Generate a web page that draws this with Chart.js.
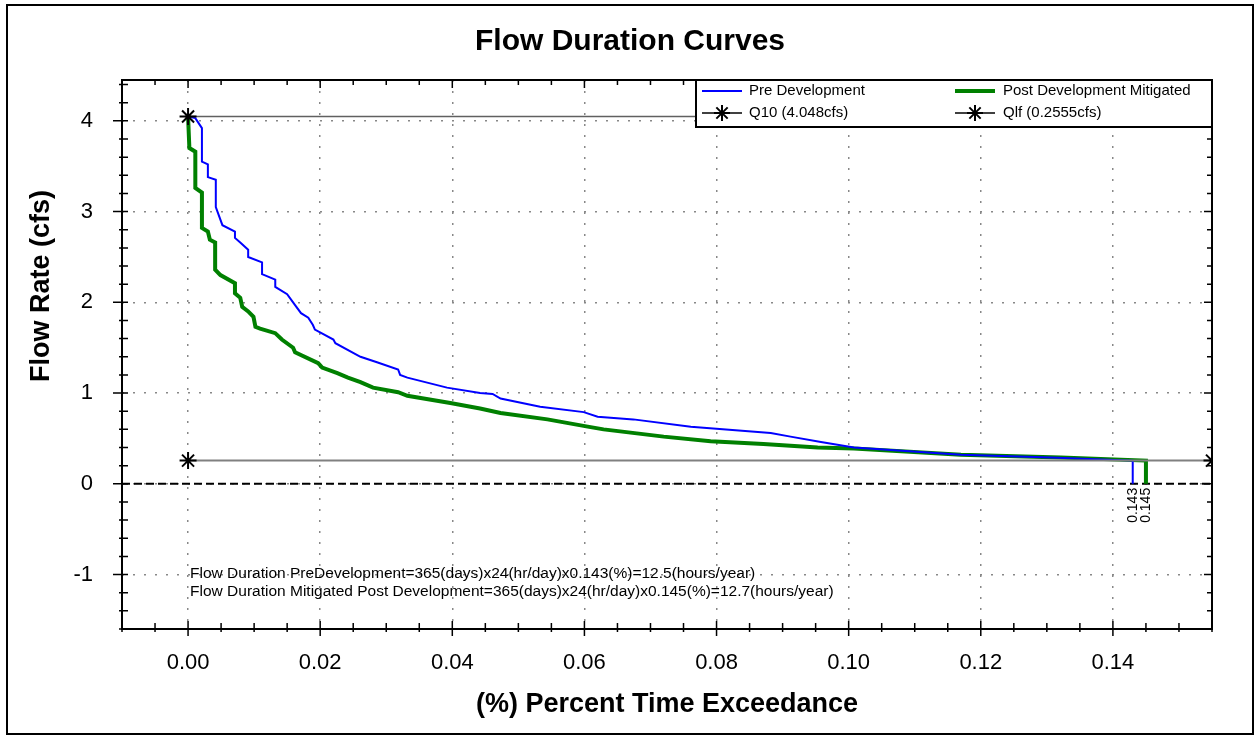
<!DOCTYPE html>
<html>
<head>
<meta charset="utf-8">
<title>Flow Duration Curves</title>
<script src="https://cdn.jsdelivr.net/npm/chart.js@4.4.1/dist/chart.umd.min.js"></script>
<style>
  body { margin: 0; background: #fff; }
  canvas { display: block; }
</style>
</head>
<body>
<canvas id="flow-duration" width="1260" height="738"></canvas>
<script>
// values
const preX = [0, 0.0011, 0.0021, 0.0021, 0.0030, 0.0030, 0.0042, 0.0042, 0.0052, 0.0071, 0.0071, 0.0079, 0.0091, 0.0091, 0.0112, 0.0112,
    0.0132, 0.0132, 0.0150, 0.0162, 0.0171, 0.0182, 0.0189, 0.0192, 0.0220, 0.0223, 0.0261, 0.0286, 0.0318, 0.0321, 0.0332, 0.0392,
    0.0442, 0.0461, 0.0473, 0.0533, 0.0599, 0.0620, 0.0674, 0.0761, 0.0882, 0.0912, 0.0958, 0.1008, 0.1170, 0.1306, 0.143, 0.143];
const preY = [4.048, 4.03, 3.92, 3.55, 3.52, 3.38, 3.35, 3.05, 2.85, 2.78, 2.71, 2.66, 2.58, 2.50, 2.44, 2.31,
    2.25, 2.17, 2.09, 1.97, 1.88, 1.83, 1.75, 1.70, 1.59, 1.55, 1.40, 1.34, 1.26, 1.20, 1.17, 1.06,
    1.00, 0.99, 0.94, 0.85, 0.79, 0.74, 0.71, 0.63, 0.56, 0.52, 0.46, 0.40, 0.32, 0.29, 0.2555, 0];

const postX = [0, 0.0002, 0.0011, 0.0011, 0.0021, 0.0021, 0.0030, 0.0033, 0.0041, 0.0041, 0.0049, 0.0071, 0.0071, 0.0079, 0.0082, 0.0091,
    0.0099, 0.0102, 0.0109, 0.0132, 0.0142, 0.0159, 0.0162, 0.0197, 0.0203, 0.0226, 0.0242, 0.0261, 0.0280, 0.0318, 0.0332, 0.0397,
    0.0442, 0.0473, 0.0544, 0.0605, 0.0629, 0.0720, 0.0791, 0.0871, 0.0953, 0.1008, 0.1170, 0.1321, 0.145, 0.145];
const postY = [4.048, 3.70, 3.66, 3.26, 3.21, 2.82, 2.78, 2.69, 2.66, 2.36, 2.30, 2.21, 2.10, 2.05, 1.95, 1.90,
    1.84, 1.73, 1.71, 1.66, 1.59, 1.50, 1.45, 1.33, 1.28, 1.22, 1.17, 1.12, 1.06, 1.01, 0.97, 0.89,
    0.83, 0.78, 0.71, 0.63, 0.60, 0.52, 0.47, 0.44, 0.40, 0.39, 0.32, 0.29, 0.2555, 0];

const q10 = 4.048;
const qlf = 0.2555;
const xRange = [-0.01, 0.155];
const yRange = [-1.6, 4.45];
const durations = [0.143, 0.145];
const notes = [
    'Flow Duration PreDevelopment=365(days)x24(hr/day)x0.143(%)=12.5(hours/year)',
    'Flow Duration Mitigated Post Development=365(days)x24(hr/day)x0.145(%)=12.7(hours/year)'
];
const yTitle = 'Flow Rate (cfs)';

const FONT = '"Liberation Sans", Arial, sans-serif';
const toPoints = (xs, ys) => xs.map((v, i) => ({x: v, y: ys[i]}));

// legend: [label, colour, line width, star marker]
const legendItems = [
    ['Pre Development', '#0000ff', 2, false],
    ['Post Development Mitigated', '#008000', 4, false],
    ['Q10 (4.048cfs)', '#000', 1.5, true],
    ['Qlf (0.2555cfs)', '#000', 1.5, true]
];

function star(ctx, x, y, r) {
    const d = r * Math.SQRT1_2;
    ctx.beginPath();
    ctx.moveTo(x, y - r); ctx.lineTo(x, y + r);
    ctx.moveTo(x - r, y); ctx.lineTo(x + r, y);
    ctx.moveTo(x - d, y - d); ctx.lineTo(x + d, y + d);
    ctx.moveTo(x - d, y + d); ctx.lineTo(x + d, y - d);
    ctx.stroke();
}

const chartExtras = {
    id: 'chartExtras',
    beforeDraw(chart) {
        const {ctx, width, height} = chart;
        ctx.save();
        ctx.fillStyle = '#fff';
        ctx.fillRect(0, 0, width, height);
        ctx.restore();
    },
    afterDatasetsDraw(chart) {
        const {ctx, chartArea: area, scales: {x, y}} = chart;
        ctx.save();

        // duration values written under the zero line
        ctx.font = '14px ' + FONT;
        ctx.textAlign = 'right';
        ctx.textBaseline = 'middle';
        durations.slice().reverse().forEach((d, i) => {
            const px = x.getPixelForValue(d);
            const py = y.getPixelForValue(0) + 4;
            const w = ctx.measureText(d.toFixed(3)).width;
            ctx.save();
            ctx.translate(px, py);
            ctx.rotate(-Math.PI / 2);
            if (i === durations.length - 1) {
                ctx.fillStyle = '#fff';
                ctx.fillRect(-w, -6, w, 12);
            }
            ctx.fillStyle = '#000';
            ctx.fillText(d.toFixed(3), 0, 0);
            ctx.restore();
        });

        // notes in the lower left of the plot
        ctx.font = '15.5px ' + FONT;
        ctx.textAlign = 'left';
        ctx.fillStyle = '#000';
        notes.forEach((t, i) => ctx.fillText(t, x.getPixelForValue(0) + 2, area.bottom - 55 + i * 18));

        // frame
        ctx.strokeStyle = '#000';
        ctx.lineWidth = 2;
        ctx.strokeRect(area.left, area.top, area.width, area.height);

        // major and minor tick marks on all four sides
        ctx.lineWidth = 1.5;
        ctx.beginPath();
        for (let k = 0; k <= Math.round((xRange[1] - xRange[0]) / 0.005); k++) {
            const v = xRange[0] + k * 0.005;
            const major = Math.abs(v / 0.02 - Math.round(v / 0.02)) < 1e-6 && v >= 0;
            const px = x.getPixelForValue(v);
            ctx.moveTo(px, area.bottom - (major ? 8 : 6));
            ctx.lineTo(px, area.bottom + (major ? 7 : 3));
            ctx.moveTo(px, area.top);
            ctx.lineTo(px, area.top + (major ? 8 : 5));
        }
        for (let k = 0; k <= Math.round((yRange[1] - yRange[0]) / 0.2); k++) {
            const v = yRange[0] + k * 0.2;
            const major = Math.abs(v - Math.round(v)) < 1e-6;
            const py = y.getPixelForValue(v);
            ctx.moveTo(area.left - (major ? 9 : 3), py);
            ctx.lineTo(area.left + 6, py);
            ctx.moveTo(area.right, py);
            ctx.lineTo(area.right - (major ? 8 : 5), py);
        }
        ctx.stroke();

        // legend box in the upper right corner
        const lw = 516, lh = 47;
        const lx = area.right - lw, ly = area.top;
        ctx.fillStyle = '#fff';
        ctx.fillRect(lx, ly, lw, lh);
        ctx.lineWidth = 2;
        ctx.strokeStyle = '#000';
        ctx.strokeRect(lx, ly, lw, lh);
        ctx.font = '15px ' + FONT;
        ctx.textBaseline = 'middle';
        legendItems.forEach(([label, color, width, marker], i) => {
            const col = i % 2, row = Math.floor(i / 2);
            const sx = lx + (col ? 259 : 6);
            const sy = ly + (row ? 33 : 11);
            ctx.strokeStyle = color;
            ctx.lineWidth = width;
            ctx.beginPath();
            ctx.moveTo(sx, sy);
            ctx.lineTo(sx + 40, sy);
            ctx.stroke();
            if (marker) {
                ctx.lineWidth = 2;
                star(ctx, sx + 20, sy, 8);
            }
            ctx.fillStyle = '#000';
            ctx.fillText(label, sx + (col ? 48 : 47), sy);
        });
        ctx.restore();
    },
    afterDraw(chart) {
        const {ctx, chartArea: area} = chart;
        ctx.save();
        // y axis title, set a little above the middle as in the original
        ctx.translate(42, area.top + 206);
        ctx.rotate(-Math.PI / 2);
        ctx.font = 'bold 27px ' + FONT;
        ctx.fillStyle = '#000';
        ctx.textAlign = 'center';
        ctx.textBaseline = 'middle';
        ctx.fillText(yTitle, 0, 0);
        ctx.restore();

        ctx.save();
        ctx.strokeStyle = '#000';
        ctx.lineWidth = 2;
        ctx.strokeRect(7, 5, chart.width - 14, chart.height - 9);
        ctx.restore();
    }
};

const ctx = document.getElementById('flow-duration').getContext('2d');

new Chart(ctx, {
    type: 'line',
    data: {
        datasets: [
            {
                label: 'Q10 (4.048cfs)',
                data: toPoints([0, xRange[1]], [q10, q10]),
                borderColor: '#606060',
                borderWidth: 1.5,
                pointStyle: 'star',
                pointRadius: [8.5, 0],
                pointBorderColor: '#000',
                pointBorderWidth: 2
            },
            {
                label: 'Qlf (0.2555cfs)',
                data: toPoints([0, xRange[1]], [qlf, qlf]),
                borderColor: '#808080',
                borderWidth: 2,
                pointStyle: 'star',
                pointRadius: 8.5,
                pointBorderColor: '#000',
                pointBorderWidth: 2
            },
            {
                label: 'Pre Development',
                data: toPoints(preX, preY),
                borderColor: '#0000ff',
                borderWidth: 2,
                pointRadius: 0
            },
            {
                label: 'Post Development Mitigated',
                data: toPoints(postX, postY),
                borderColor: '#008000',
                borderWidth: 4,
                pointRadius: 0
            },
            {
                label: 'zero',
                data: toPoints(xRange, [0, 0]),
                borderColor: '#000',
                borderWidth: 2,
                borderDash: [8, 4],
                pointRadius: 0
            }
        ]
    },
    options: {
        responsive: false,
        animation: false,
        events: [],
        layout: {
            padding: 0
        },
        elements: {
            line: {tension: 0, fill: false}
        },
        plugins: {
            legend: {display: false},
            tooltip: {enabled: false},
            title: {
                display: true,
                text: 'Flow Duration Curves',
                color: '#000',
                font: {family: FONT, size: 30, weight: 'bold'},
                padding: {top: 24, bottom: 20}
            }
        },
        scales: {
            x: {
                type: 'linear',
                min: xRange[0],
                max: xRange[1],
                afterFit(scale) { scale.height = 109; },
                ticks: {
                    stepSize: 0.02,
                    includeBounds: false,
                    maxRotation: 0,
                    padding: 21,
                    color: '#000',
                    font: {family: FONT, size: 22},
                    callback: v => v.toFixed(2)
                },
                grid: {color: '#888', lineWidth: 1.5, drawTicks: false},
                border: {display: false, dash: [2, 9]},
                title: {
                    display: true,
                    text: '(%) Percent Time Exceedance',
                    color: '#000',
                    font: {family: FONT, size: 27, weight: 'bold'},
                    padding: {top: 0, bottom: 17}
                }
            },
            y: {
                min: yRange[0],
                max: yRange[1],
                afterFit(scale) { scale.width = 122; },
                ticks: {
                    stepSize: 1,
                    includeBounds: false,
                    padding: 29,
                    color: '#000',
                    font: {family: FONT, size: 22}
                },
                grid: {color: '#888', lineWidth: 1.5, drawTicks: false},
                border: {display: false, dash: [2, 9]}
            },
            // empty right-hand margin so the title centres on the page
            yRight: {
                position: 'right',
                afterFit(scale) { scale.width = 48; },
                ticks: {display: false},
                grid: {display: false},
                border: {display: false}
            }
        }
    },
    plugins: [chartExtras]
});
</script>
</body>
</html>
